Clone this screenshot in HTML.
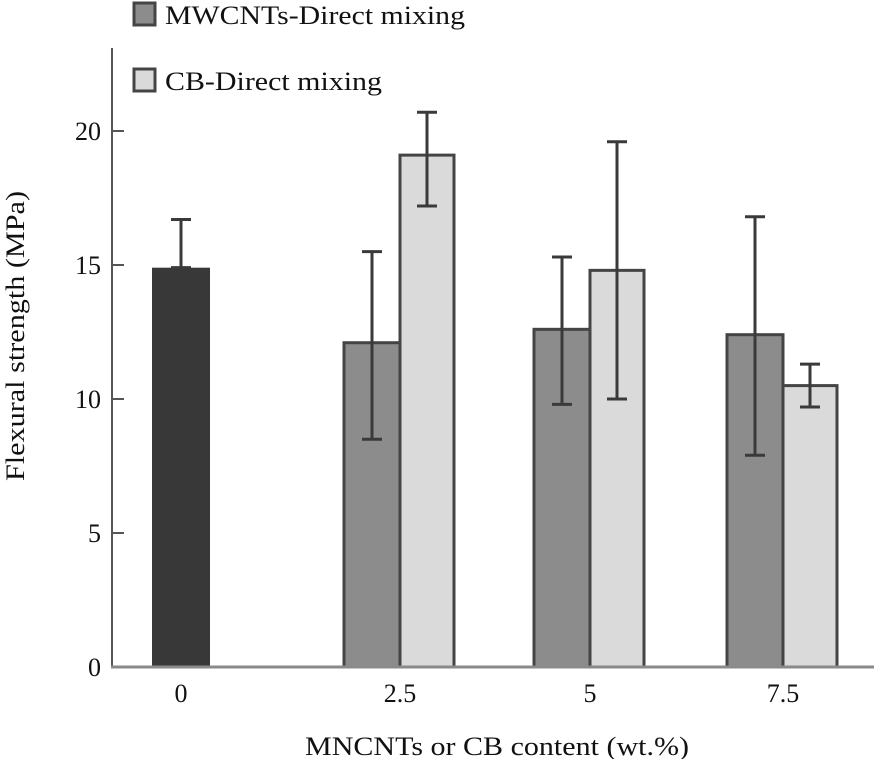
<!DOCTYPE html>
<html><head><meta charset="utf-8"><style>
body{margin:0;background:#fff;}
svg{display:block;font-family:"Liberation Serif",serif;}
</style></head><body>
<svg id="chart" width="877" height="759" viewBox="0 0 877 759">
<g id="bars"></g>
<g id="axes"></g>
<g>
 <rect x="134" y="3" width="21" height="22" fill="#8c8c8c" stroke="#444" stroke-width="3"/>
 <text x="165" y="24" font-size="26" fill="#111" textLength="300" lengthAdjust="spacingAndGlyphs">MWCNTs-Direct mixing</text>
 <rect x="134" y="69" width="21" height="22" fill="#dadada" stroke="#444" stroke-width="3"/>
 <text x="165" y="90" font-size="26" fill="#111" textLength="217" lengthAdjust="spacingAndGlyphs">CB-Direct mixing</text>
</g>
<text transform="translate(24,336) rotate(-90)" text-anchor="middle" font-size="26" fill="#111" textLength="290" lengthAdjust="spacingAndGlyphs">Flexural strength (MPa)</text>
<text x="497" y="755" text-anchor="middle" font-size="26" fill="#111" textLength="384" lengthAdjust="spacingAndGlyphs">MNCNTs or CB content (wt.%)</text>
</svg>
<script>
const categories = ["0","2.5","5","7.5"];
const controlValue = [14.9];
const controlErr = [16.7];
const mwValues = [null, 12.1, 12.6, 12.4];
const mwLow = [null, 8.5, 9.8, 7.9];
const mwHigh = [null, 15.5, 15.3, 16.8];
const cbValues = [null, 19.1, 14.8, 10.5];
const cbLow = [null, 17.2, 10.0, 9.7];
const cbHigh = [null, 20.7, 19.6, 11.3];
const yTicks = [0,5,10,15,20];

const NS="http://www.w3.org/2000/svg";
const catX = [181, 400, 590, 783];
function y(v){ return 667 - v*26.8; }
function mk(tag, attrs, parent){ const e=document.createElementNS(NS,tag); for(const k in attrs) e.setAttribute(k,attrs[k]); parent.appendChild(e); return e; }
const bars=document.getElementById('bars'), axes=document.getElementById('axes');
function errbar(cx, lo, hi, name){
  const g=mk('g',{stroke:'#3a3a3a','stroke-width':3},bars);
  
  
  mk('line',{x1:cx,x2:cx,y1:y(lo),y2:y(hi)},g);
  mk('line',{x1:cx-10,x2:cx+10,y1:y(hi),y2:y(hi)},g);
  mk('line',{x1:cx-10,x2:cx+10,y1:y(lo),y2:y(lo)},g);
}
{
  const r=mk('rect',{x:catX[0]-29,y:y(controlValue[0]),width:58,height:y(0)-y(controlValue[0]),fill:'#383838'},bars);
  
  
  errbar(catX[0], controlValue[0], controlErr[0], 'error-bar-control-0');
}
for(let i=1;i<categories.length;i++){
  const cx=catX[i];
  const r1=mk('rect',{x:cx-56,y:y(mwValues[i]),width:56,height:y(0)-y(mwValues[i]),fill:'#8c8c8c',stroke:'#444','stroke-width':3},bars);
  
  
  const r2=mk('rect',{x:cx,y:y(cbValues[i]),width:54,height:y(0)-y(cbValues[i]),fill:'#dadada',stroke:'#444','stroke-width':3},bars);
  
  
  errbar(cx-28, mwLow[i], mwHigh[i], 'error-bar-mwcnts-'+categories[i]);
  errbar(cx+27, cbLow[i], cbHigh[i], 'error-bar-cb-'+categories[i]);
}
const ya=mk('line',{x1:112,x2:112,y1:48,y2:668,stroke:'#555','stroke-width':2},axes);


const xa=mk('line',{x1:111,x2:874,y1:667,y2:667,stroke:'#8a8a8a','stroke-width':3},axes);


yTicks.forEach(t=>{
  if(t>0){
    const tk=mk('line',{x1:112,x2:124,y1:y(t),y2:y(t),stroke:'#555','stroke-width':2},axes);
    
    
  }
  const tx=mk('text',{x:101,y:y(t)+9,'text-anchor':'end','font-size':26,fill:'#111'},axes);
  tx.textContent=t;
  
  
});
categories.forEach((c,i)=>{
  const tx=mk('text',{x:catX[i],y:702,'text-anchor':'middle','font-size':26,fill:'#111'},axes);
  tx.textContent=c;
  
  
});
</script>
</body></html>
